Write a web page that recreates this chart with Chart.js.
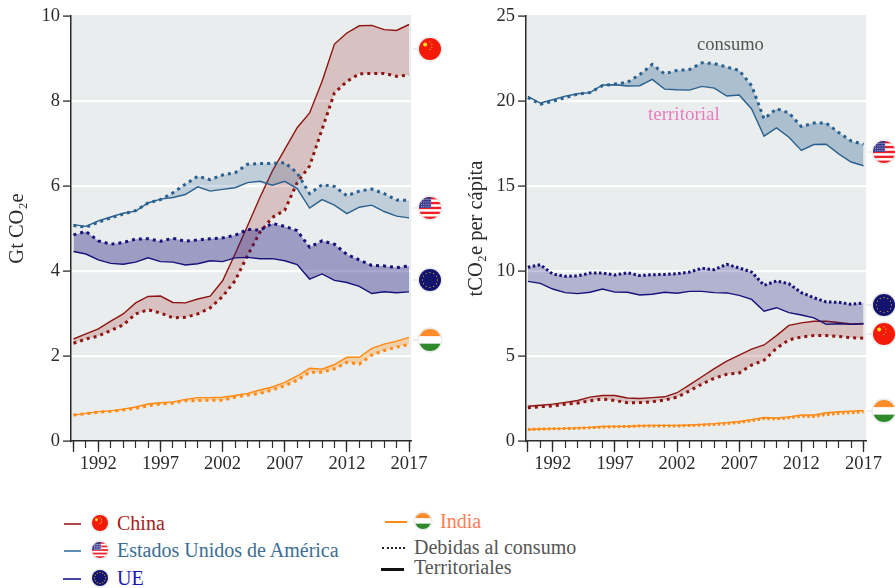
<!DOCTYPE html>
<html lang="es">
<head>
<meta charset="utf-8">
<title>Emisiones de CO2e</title>
<script src="https://cdn.jsdelivr.net/npm/chart.js@4"></script>
<style>
  html,body{margin:0;padding:0;background:#fff;}
  #page{position:relative;width:895px;height:588px;overflow:hidden;font-family:"Liberation Serif",serif;}
  canvas.chart{position:absolute;top:0;}
  .txt{position:absolute;white-space:nowrap;font-size:20px;line-height:22px;transform:translateY(-50%);}
  .ln{position:absolute;height:0;border-top-style:solid;}
  .flag{position:absolute;transform:translate(-50%,-50%);}
</style>
</head>
<body>
<div id="page">
  <canvas class="chart" id="left" style="left:0" width="450" height="500"></canvas>
  <canvas class="chart" id="right" style="left:450px" width="445" height="500"></canvas>
  <div class="txt" style="left:697px;top:44px;color:#555;font-size:18.5px">consumo</div>
  <div class="txt" style="left:648px;top:114px;color:#e87dbd;font-size:19px">territorial</div>
  <div id="legend"></div>
</div>
<script>
const years = [1990,1991,1992,1993,1994,1995,1996,1997,1998,1999,2000,2001,2002,2003,2004,2005,2006,2007,2008,2009,2010,2011,2012,2013,2014,2015,2016,2017];
const majorTicks = [1990,1992,1997,2002,2007,2012,2017];

// left panel, Gt CO2e
const chinaTerr = [2.40,2.52,2.64,2.82,2.99,3.25,3.40,3.41,3.26,3.25,3.34,3.41,3.77,4.40,5.06,5.73,6.35,6.86,7.37,7.72,8.46,9.34,9.60,9.77,9.78,9.68,9.66,9.80];
const chinaCons = [2.30,2.40,2.47,2.60,2.73,2.99,3.09,3.01,2.90,2.91,2.99,3.13,3.40,3.77,4.36,4.91,5.26,5.43,6.08,6.47,7.33,8.19,8.46,8.64,8.65,8.65,8.58,8.61];
const usaTerr = [5.09,5.05,5.18,5.27,5.36,5.41,5.60,5.69,5.73,5.80,5.98,5.88,5.92,5.96,6.08,6.11,6.02,6.11,5.94,5.48,5.68,5.55,5.35,5.50,5.55,5.40,5.29,5.25];
const usaCons = [5.07,5.03,5.15,5.25,5.34,5.42,5.60,5.68,5.84,6.04,6.23,6.15,6.26,6.31,6.51,6.53,6.53,6.55,6.31,5.82,6.03,5.99,5.77,5.88,5.93,5.82,5.67,5.66];
const euTerr = [4.46,4.40,4.26,4.18,4.16,4.21,4.31,4.22,4.21,4.14,4.17,4.24,4.22,4.31,4.32,4.29,4.29,4.24,4.15,3.81,3.93,3.78,3.73,3.64,3.47,3.51,3.49,3.51];
const euCons = [4.85,4.93,4.71,4.63,4.67,4.75,4.76,4.70,4.77,4.70,4.73,4.76,4.78,4.84,4.98,4.96,5.12,5.05,4.95,4.56,4.71,4.63,4.39,4.26,4.13,4.12,4.08,4.12];
const indiaTerr = [0.61,0.65,0.69,0.71,0.75,0.80,0.87,0.90,0.92,0.98,1.02,1.02,1.03,1.07,1.12,1.20,1.27,1.38,1.53,1.71,1.69,1.80,1.97,1.97,2.18,2.28,2.35,2.44];
const indiaCons = [0.61,0.64,0.68,0.70,0.73,0.77,0.83,0.87,0.89,0.95,0.95,0.96,0.96,1.03,1.08,1.12,1.20,1.30,1.43,1.62,1.62,1.70,1.85,1.81,2.02,2.13,2.21,2.27];

// right panel, tCO2e per capita
const chinaTerrPc = [2.04,2.10,2.17,2.27,2.38,2.58,2.68,2.68,2.53,2.50,2.55,2.60,2.84,3.30,3.78,4.26,4.70,5.05,5.40,5.65,6.20,6.80,6.95,7.04,7.04,6.97,6.88,6.92];
const chinaConsPc = [1.95,2.02,2.06,2.16,2.23,2.37,2.47,2.38,2.25,2.26,2.31,2.41,2.58,2.95,3.35,3.70,3.92,4.00,4.47,4.75,5.45,5.95,6.12,6.20,6.20,6.15,6.07,6.05];
const usaTerrPc = [20.27,19.88,20.08,20.29,20.43,20.49,20.94,20.96,20.88,20.90,21.27,20.70,20.66,20.64,20.86,20.76,20.29,20.35,19.53,17.93,18.42,17.87,17.09,17.44,17.46,16.89,16.41,16.19];
const usaConsPc = [20.20,19.82,19.98,20.20,20.40,20.50,20.90,21.00,21.10,21.55,22.15,21.60,21.80,21.85,22.25,22.20,22.00,21.80,20.90,18.95,19.55,19.30,18.50,18.70,18.70,18.15,17.65,17.45];
const euTerrPc = [9.39,9.27,8.94,8.73,8.67,8.75,8.94,8.76,8.75,8.59,8.63,8.75,8.69,8.80,8.80,8.73,8.71,8.57,8.33,7.63,7.84,7.55,7.41,7.24,6.86,6.90,6.86,6.88];
const euConsPc = [10.22,10.37,9.82,9.69,9.71,9.88,9.88,9.76,9.90,9.73,9.78,9.80,9.84,9.94,10.16,10.08,10.39,10.18,9.94,9.16,9.41,9.25,8.73,8.43,8.18,8.16,8.04,8.12];
const indiaTerrPc = [0.68,0.71,0.73,0.74,0.77,0.80,0.85,0.86,0.87,0.90,0.92,0.92,0.92,0.94,0.98,1.02,1.08,1.15,1.26,1.38,1.35,1.42,1.53,1.53,1.66,1.72,1.75,1.79];
const indiaConsPc = [0.68,0.70,0.72,0.73,0.75,0.78,0.82,0.84,0.85,0.88,0.88,0.88,0.88,0.91,0.94,0.97,1.02,1.09,1.20,1.32,1.30,1.36,1.46,1.44,1.56,1.63,1.67,1.72];

// where the flags sit on each y axis
const flagsLeft = { china: 9.22, usa: 5.49, eu: 3.80, india: 2.37 };
const flagsRight = { china: 6.28, usa: 17.0, eu: 8.0, india: 1.76 };
const FLAG_YEAR = 2018.65;

const FONT = '"Liberation Serif", serif';
const INK = '#2b2b2b';
const COLORS = { china: '#8f1512', usa: '#2a6190', eu: '#15127c', india: '#ff8a14' };

function $(sel){ return document.querySelector(sel); }

// -------- FLAGS --------
function makeFlag(kind, r, stub){
  const pad = stub ? 6 : 2;
  const c = document.createElement('canvas');
  c.width = c.height = 2 * (r + pad);
  const g = c.getContext('2d');
  const m = r + pad;
  if (stub){
    g.fillStyle = '#eceeee';
    g.fillRect(0, m - 1, pad + 2, 2);
  }
  g.beginPath(); g.arc(m, m, r + 1.7, 0, Math.PI * 2); g.fillStyle = '#eceeee'; g.fill();
  g.save();
  g.beginPath(); g.arc(m, m, r, 0, Math.PI * 2); g.clip();
  const x0 = m - r, y0 = m - r, d = 2 * r;
  if (kind === 'china'){
    g.fillStyle = '#f31a0a'; g.fillRect(x0, y0, d, d);
    g.fillStyle = '#ffe020';
    g.beginPath(); g.arc(x0 + d * .28, y0 + d * .3, d * .09, 0, Math.PI * 2); g.fill();
    [[.47,.15],[.56,.26],[.56,.4],[.47,.5]].forEach(p => g.fillRect(x0 + d * p[0], y0 + d * p[1], 1, 1));
  } else if (kind === 'usa'){
    for (let i = 0; i < 9; i++){
      g.fillStyle = i % 2 ? '#fff' : '#f0202a';
      g.fillRect(x0, y0 + i * d / 9, d, d / 9 + .5);
    }
    g.fillStyle = '#3c3b8e'; g.fillRect(x0, y0, d * .55, d * .5);
    g.fillStyle = '#b8b8e0';
    for (let i = 0; i < 5; i++) for (let j = 0; j < 4; j++) g.fillRect(x0 + 2 + i * d * .1, y0 + 2 + j * d * .11, 1, 1);
  } else if (kind === 'eu'){
    g.fillStyle = '#14146e'; g.fillRect(x0, y0, d, d);
    g.fillStyle = '#e4c020';
    for (let i = 0; i < 12; i++){
      const a = i * Math.PI / 6;
      g.fillRect(m + Math.cos(a) * r * .68 - .5, m + Math.sin(a) * r * .68 - .5, 1, 1);
    }
  } else {
    g.fillStyle = '#ff8c2a'; g.fillRect(x0, y0, d, d / 3);
    g.fillStyle = '#fff'; g.fillRect(x0, y0 + d / 3, d, d / 3);
    g.fillStyle = '#2f8a2c'; g.fillRect(x0, y0 + 2 * d / 3, d, d / 3);
  }
  g.restore();
  return c;
}

// -------- CHARTS --------
function pts(values){ return values.map((v, i) => ({ x: years[i], y: v })); }

function hexAlpha(hex, alpha){
  const r = parseInt(hex.slice(1,3),16), g = parseInt(hex.slice(3,5),16), b = parseInt(hex.slice(5,7),16);
  return `rgba(${r},${g},${b},${alpha})`;
}

function buildDatasets(groups){
  const out = [];
  groups.forEach(gp => {
    const base = COLORS[gp.key];
    const fillCol = hexAlpha(base, gp.alpha);
    const consIdx = out.length;
    out.push({ label: gp.key + ' consumo', data: pts(gp.cons), borderColor: base, borderWidth: 3,
      borderDash: gp.dash || [3, 4], pointRadius: 0, fill: false, tension: 0 });
    out.push({ label: gp.key + ' territorial', data: pts(gp.terr), borderColor: base, borderWidth: 1.4,
      pointRadius: 0, tension: 0, fill: { target: consIdx, above: fillCol, below: fillCol } });
  });
  return out;
}

const panelBg = {
  id: 'panelBg',
  beforeDraw(chart){
    const a = chart.chartArea, g = chart.ctx;
    g.save();
    g.fillStyle = '#eaeded';
    g.fillRect(a.left, a.top - 1, a.right - a.left, a.bottom - a.top + 1);
    g.restore();
  }
};

// flags sit past the x axis end, points outside chartArea would not draw
const flagMarks = {
  id: 'flagMarks',
  afterDatasetsDraw(chart, args, opts){
    const g = chart.ctx, sx = chart.scales.x, sy = chart.scales.y;
    Object.keys(opts.values).forEach(key => {
      const img = makeFlag(key, 11, true);
      const x = sx.getPixelForValue(FLAG_YEAR), y = sy.getPixelForValue(opts.values[key]);
      g.drawImage(img, Math.round(x - img.width / 2), Math.round(y - img.height / 2));
    });
  }
};

function makeChart(el, cfg){
  const xOpts = { type: 'linear', min: cfg.xMin, max: cfg.xMax };
  return new Chart(el, {
    type: 'line',
    data: { datasets: buildDatasets(cfg.groups) },
    plugins: [panelBg, flagMarks],
    options: {
      responsive: false,
      animation: false,
      layout: { padding: { top: cfg.top, right: cfg.right, left: cfg.padLeft, bottom: 0 } },
      plugins: { legend: { display: false }, tooltip: { enabled: false }, flagMarks: { values: cfg.flags } },
      scales: {
        x: { ...xOpts, position: 'bottom',
          afterBuildTicks: s => { s.ticks = majorTicks.map(v => ({ value: v })); },
          afterFit: s => { s.height = 59; },
          grid: { drawOnChartArea: false, tickLength: 11, tickColor: INK, tickWidth: 1.3 },
          border: { color: INK, width: 1.5 },
          ticks: { autoSkip: false, maxRotation: 0, padding: 1, color: INK, font: { family: FONT, size: 18.5 },
            callback: v => v === 1990 ? '' : String(v) } },
        x2: { ...xOpts, axis: 'x', position: { y: 0 },
          afterBuildTicks: s => { s.ticks = years.map(v => ({ value: v })); },
          grid: { drawOnChartArea: false, tickLength: 7, tickColor: INK, tickWidth: 1.2 },
          border: { display: false },
          ticks: { display: false } },
        y: { min: 0, max: cfg.yMax,
          afterBuildTicks: s => { s.ticks = cfg.yTicks.map(v => ({ value: v })); },
          afterFit: s => { s.width = cfg.axisWidth; },
          grid: { color: c => (c.tick.value === 0 || c.tick.value === cfg.yMax) ? 'rgba(0,0,0,0)' : '#ffffff',
            lineWidth: 2.2, tickLength: 8, tickColor: INK, tickWidth: 1.3 },
          border: { color: INK, width: 1.5 },
          title: { display: true, text: cfg.title, color: INK, padding: 0, font: { family: FONT, size: cfg.titleSize } },
          ticks: { color: INK, padding: 3, font: { family: FONT, size: 18.5 } } }
      }
    }
  });
}

makeChart($('#left'), {
  title: 'Gt CO\u2082e', titleSize: 20.5, yMax: 10, yTicks: [0,2,4,6,8,10], top: 16, right: 39, padLeft: 5, axisWidth: 66,
  xMin: 1989.8, xMax: 2017.16, flags: flagsLeft,
  groups: [
    { key: 'usa', terr: usaTerr, cons: usaCons, alpha: .22 },
    { key: 'eu', terr: euTerr, cons: euCons, alpha: .36 },
    { key: 'china', terr: chinaTerr, cons: chinaCons, alpha: .2 },
    { key: 'india', terr: indiaTerr, cons: indiaCons, alpha: .3 }
  ]
});

makeChart($('#right'), {
  title: 'tCO\u2082e per cápita', titleSize: 20.5, yMax: 25, yTicks: [0,5,10,15,20,25], top: 16, right: 29, padLeft: 14, axisWidth: 62,
  xMin: 1989.85, xMax: 2017.2, flags: flagsRight,
  groups: [
    { key: 'usa', terr: usaTerrPc, cons: usaConsPc, alpha: .33 },
    { key: 'eu', terr: euTerrPc, cons: euConsPc, alpha: .26, dash: [2.5, 2.5] },
    { key: 'china', terr: chinaTerrPc, cons: chinaConsPc, alpha: .2 },
    { key: 'india', terr: indiaTerrPc, cons: indiaConsPc, alpha: .3, dash: [2.5, 2.5] }
  ]
});

// -------- LEGEND --------
const legendRows = [
  { key: 'china', text: 'China', color: '#a31d1d', line: '#b04a4a', x: 64, w: 17, flagX: 100, tx: 117, y: 523 },
  { key: 'usa', text: 'Estados Unidos de América', color: '#3a6d95', line: '#5f8eb0', x: 64, w: 17, flagX: 100, tx: 117, y: 550 },
  { key: 'eu', text: 'UE', color: '#1717b5', line: '#4a46a0', x: 63, w: 18, flagX: 100, tx: 117, y: 578 },
  { key: 'india', text: 'India', color: '#ff7d55', line: '#ff8a14', x: 385, w: 22, flagX: 423, tx: 440, y: 521 }
];

$('#legend').innerHTML = legendRows.map(r => `
  <div class="ln" style="left:${r.x}px;top:${r.y}px;width:${r.w}px;border-top-width:2px;border-top-color:${r.line}"></div>
  <div class="txt" style="left:${r.tx}px;top:${r.y}px;color:${r.color}">${r.text}</div>
`).join('') + `
  <div class="ln" style="left:382px;top:547px;width:23px;border-top:2.5px dotted #222"></div>
  <div class="txt" style="left:414px;top:547px;color:#555">Debidas al consumo</div>
  <div class="ln" style="left:381px;top:568px;width:23px;border-top:3px solid #111"></div>
  <div class="txt" style="left:414px;top:567px;color:#555">Territoriales</div>
`;
legendRows.forEach(r => {
  const f = makeFlag(r.key, 8, false);
  f.className = 'flag';
  f.style.left = r.flagX + 'px';
  f.style.top = r.y + 'px';
  $('#legend').appendChild(f);
});
</script>
</body>
</html>
